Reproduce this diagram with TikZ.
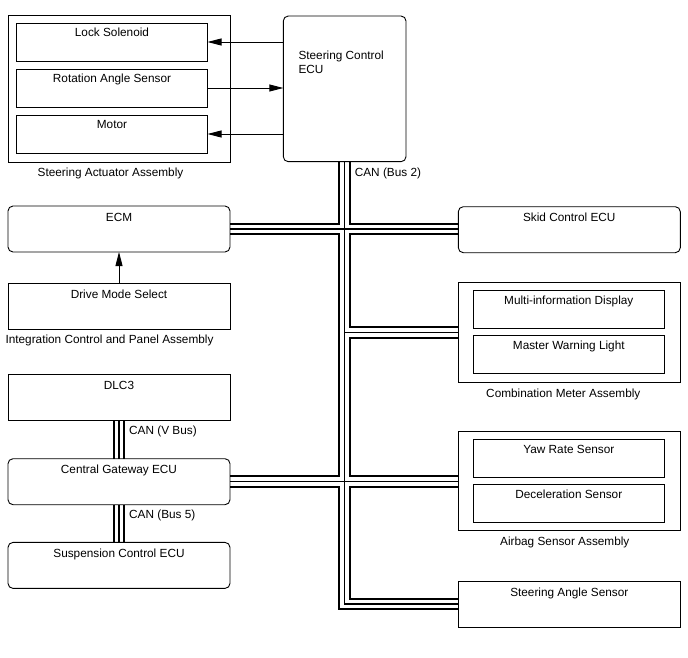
\documentclass[tikz,border=0pt]{standalone}
\usepackage{fontspec}
\setmainfont{Liberation Sans}
\usetikzlibrary{arrows.meta,positioning,calc,backgrounds}

\begin{document}
\begin{tikzpicture}[
    x=1pt, y=-1pt,
    every node/.style={font=\fontsize{11.8}{14}\selectfont},
    unit/.style={draw, rectangle, line width=0.9pt, outer sep=0pt, minimum width=222pt, minimum height=46pt, inner ysep=6.5pt, text height=8.5pt, text depth=24.5pt},
    ecubox/.style={unit, rounded corners=5pt},
    part/.style={draw, rectangle, line width=0.9pt, outer sep=0pt, minimum width=191pt, minimum height=38pt, inner ysep=5.5pt, text height=8.5pt, text depth=18.5pt},
    assy/.style={draw, rectangle, line width=0.9pt, outer sep=0pt, minimum width=222pt},
    caption/.style={inner sep=0pt},
    arrow/.style={-{Triangle[length=14pt, width=7pt]}, line width=0.9pt}
  ]
    \useasboundingbox (0,0) rectangle (688,658);

    % steering actuator and ECU
    \node (actuator) [assy, minimum height=147pt, anchor=north west] at (8,15) {};
    \node (lock) [part, below right=8pt and 8.5pt of actuator.north west] {Lock Solenoid};
    \node (rotation) [part, below=8pt of lock] {Rotation Angle Sensor};
    \node (motor) [part, below=8pt of rotation] {Motor};
    \node (actuatorlabel) [caption, below=6pt of actuator, xshift=-8.5pt] {Steering Actuator Assembly};

    \node (ecu) [draw, rounded corners=5pt, line width=0.9pt, outer sep=0pt, minimum width=122.7pt, minimum height=145.7pt, anchor=north west] at (283.3,16) {};
    \node (ecutext) [caption, align=left, anchor=north west] at ($(ecu.north west)+(15,35)$) {Steering Control\\ECU};

    % left column
    \node (ecm) [ecubox, anchor=north west] at (8,206) {ECM};
    \node (drive) [unit, below=31pt of ecm] {Drive Mode Select};
    \node (integration) [caption, below=6pt of drive, xshift=-9.5pt] {Integration Control and Panel Assembly};
    \node (dlc) [unit, below=45.7pt of drive] {DLC3};
    \node (gateway) [ecubox, below=38pt of dlc] {Central Gateway ECU};
    \node (suspension) [ecubox, below=37.7pt of gateway] {Suspension Control ECU};

    % right column
    \node (skid) [ecubox, anchor=north west] at (458.3,206.7) {Skid Control ECU};
    \node (combo) [assy, minimum height=99.6pt, below=30pt of skid] {};
    \node (multi) [part, below right=7.3pt and 15pt of combo.north west] {Multi-information Display};
    \node (master) [part, below=7.7pt of multi] {Master Warning Light};
    \node (combolabel) [caption, below=6pt of combo, xshift=-6pt] {Combination Meter Assembly};
    \node (airbag) [assy, minimum height=99pt, below=49.4pt of combo] {};
    \node (yaw) [part, below right=7.3pt and 15pt of airbag.north west] {Yaw Rate Sensor};
    \node (decel) [part, below=7pt of yaw] {Deceleration Sensor};
    \node (airbaglabel) [caption, below=6pt of airbag, xshift=-4.5pt] {Airbag Sensor Assembly};
    \node (steerangle) [unit, below=50.3pt of airbag] {Steering Angle Sensor};

    % CAN lines
    \node (bus2) [caption, anchor=west] at ($(ecu.south)+(10,11.5)$) {CAN (Bus 2)};
    \node (vbus) [caption, anchor=west] at ($(dlc.south)+(10,11)$) {CAN (V Bus)};
    \node (bus5) [caption, anchor=west] at ($(gateway.south)+(10,11)$) {CAN (Bus 5)};

    \begin{scope}[on background layer]
      \foreach \w/\c in {12.5pt/black, 8.5pt/white, 1.4pt/black} {
        \draw [line width=\w, draw=\c]
          (ecm.east) -- (ecm.east -| skid.west)
          (ecu.south) -- (ecu.south |- steerangle.west) -- (steerangle.west)
          (ecu.south |- combo.west) -- (combo.west)
          (gateway.east) -- (gateway.east -| airbag.west)
          (dlc.south) -- (gateway.north)
          (gateway.south) -- (suspension.north);
      }
    \end{scope}

    \draw [arrow] (ecu.west |- lock.east) -- (lock.east);
    \draw [arrow] (rotation.east) -- (ecu.west |- rotation.east);
    \draw [arrow] (ecu.west |- motor.east) -- (motor.east);
    \draw [arrow] (drive.north) -- (ecm.south);
\end{tikzpicture}
\end{document}
